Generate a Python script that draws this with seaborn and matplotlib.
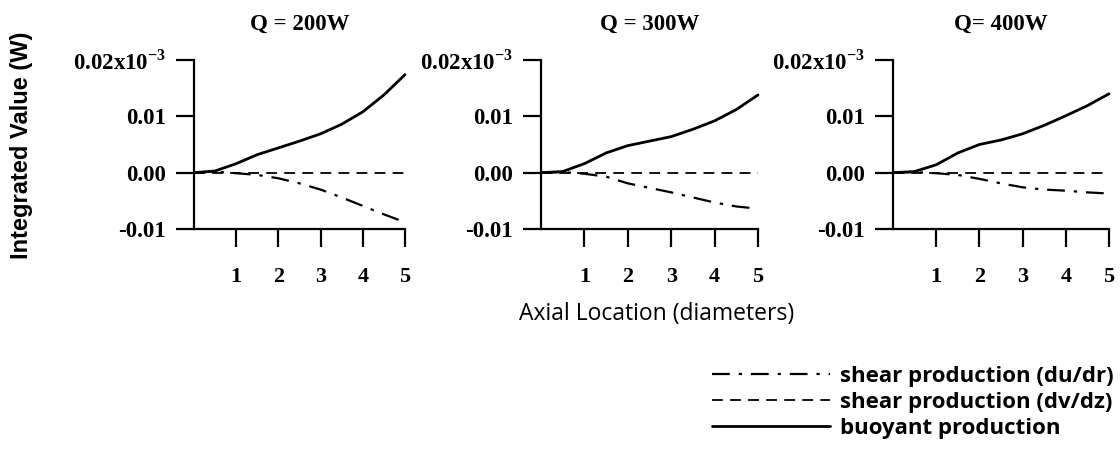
import numpy as np
import pandas as pd
import matplotlib
matplotlib.use("Agg")
import matplotlib.pyplot as plt
import seaborn as sns
from matplotlib.lines import Line2D

sns.set_theme(style="white")
plt.rcParams["font.family"] = ["Liberation Serif", "DejaVu Serif"]
plt.rcParams["mathtext.fontset"] = "custom"
plt.rcParams["mathtext.rm"] = "Liberation Serif:bold"
plt.rcParams["mathtext.bf"] = "Liberation Serif:bold"
for key in ["text.color", "axes.labelcolor", "xtick.color", "ytick.color"]:
    plt.rcParams[key] = "black"

# Axial location (diameters)
x = [0.0, 0.5, 1.0, 1.5, 2.0, 2.5, 3.0, 3.5, 4.0, 4.5, 5.0]

titles = ["Q = 200W", "Q = 300W", "Q= 400W"]

# Integrated values (scaled, tick labels in units of 10^-3 W)
buoyant_200 = [0.0, 0.0003, 0.0016, 0.0032, 0.0044, 0.0056, 0.0069, 0.0086, 0.0108, 0.0138, 0.0174]
buoyant_300 = [0.0, 0.0002, 0.0016, 0.0035, 0.0048, 0.0056, 0.0064, 0.0077, 0.0092, 0.0112, 0.0138]
buoyant_400 = [0.0, 0.0002, 0.0014, 0.0035, 0.0050, 0.0058, 0.0069, 0.0084, 0.0101, 0.0119, 0.0140]

dudr_200 = [0.0, 0.0002, -0.0001, -0.0004, -0.0010, -0.0019, -0.0030, -0.0044, -0.0059, -0.0074, -0.0088]
dudr_300 = [0.0, 0.0001, -0.0002, -0.0007, -0.0019, -0.0027, -0.0035, -0.0044, -0.0053, -0.0060, -0.0064]
dudr_400 = [0.0, 0.0001, -0.0001, -0.0004, -0.0011, -0.0019, -0.0026, -0.0030, -0.0032, -0.0035, -0.0037]

dvdz_200 = [0.0] * 11
dvdz_300 = [0.0] * 11
dvdz_400 = [0.0] * 11

labels = ["shear production (du/dr)", "shear production (dv/dz)", "buoyant production"]
ytick_vals = [-0.01, 0.0, 0.01, 0.02]
ytick_labels = ["-0.01", "0.00", "0.01", r"0.02x10$^{-3}$"]
xtick_vals = [1, 2, 3, 4, 5]

frames = []
for title, b, s1, s2 in zip(titles,
                            [buoyant_200, buoyant_300, buoyant_400],
                            [dudr_200, dudr_300, dudr_400],
                            [dvdz_200, dvdz_300, dvdz_400]):
    for name, vals in zip(labels, [s1, s2, b]):
        frames.append(pd.DataFrame({"x": x, "value": vals, "term": name, "case": title}))
df = pd.concat(frames, ignore_index=True)

styles = {
    labels[0]: (0, (8, 4, 1.5, 4)),
    labels[1]: (0, (6, 4)),
    labels[2]: "-",
}
widths = {labels[0]: 1.6, labels[1]: 1.3, labels[2]: 2.0}

fig = plt.figure(figsize=(11.2, 4.49), dpi=100)
W, H = 1120, 449
panels = [(194, 405), (541, 758), (893, 1109)]
ytop, ybot = 60, 229

for (xl, xr), title in zip(panels, titles):
    ax = fig.add_axes([xl / W, 1 - ybot / H, (xr - xl) / W, (ybot - ytop) / H])
    sub = df[df["case"] == title]
    for name in labels:
        d = sub[sub["term"] == name]
        sns.lineplot(data=d, x="x", y="value", ax=ax, color="black",
                     linestyle=styles[name], linewidth=widths[name],
                     legend=False, clip_on=False)
    ax.set_xlim(0, 5)
    ax.set_ylim(-0.01, 0.02)
    ax.set_xticks(xtick_vals)
    ax.set_xticklabels([str(v) for v in xtick_vals], fontweight="bold", fontsize=16)
    ax.set_yticks(ytick_vals)
    ax.set_yticklabels(ytick_labels, fontweight="bold", fontsize=16.5)
    ax.tick_params(axis="both", which="major", direction="out", length=13,
                   width=1.6, color="black", left=True, bottom=True)
    ax.tick_params(axis="y", pad=7)
    ax.tick_params(axis="x", pad=14)
    for side in ["top", "right"]:
        ax.spines[side].set_visible(False)
    for side in ["left", "bottom"]:
        ax.spines[side].set_color("black")
        ax.spines[side].set_linewidth(1.6)
    ax.set_xlabel("")
    ax.set_ylabel("")
    ax.set_title(title, fontweight="bold", fontsize=16.5, pad=22)
    ax.patch.set_alpha(0)

fig.text(22 / W, 1 - 145 / H, "Integrated Value (W)", rotation=90,
         ha="center", va="center", fontsize=17, fontweight="bold",
         family=["Liberation Sans Narrow", "Liberation Sans", "DejaVu Sans"])
fig.text(657 / W, 1 - 314 / H, "Axial Location (diameters)", ha="center",
         va="center", fontsize=16.5, family=["Open Sans", "DejaVu Sans"])

handles = [Line2D([0], [0], color="black", linestyle=styles[n], linewidth=widths[n])
           for n in labels]
leg = fig.legend(handles, labels, loc="upper left",
                 bbox_to_anchor=(712 / W, 1 - 366 / H), frameon=False,
                 borderpad=0, borderaxespad=0,
                 handlelength=5.3, handletextpad=0.45, labelspacing=0.22,
                 prop={"family": ["Open Sans", "DejaVu Sans"], "weight": "bold", "size": 16})

fig.savefig("out.png", dpi=100, facecolor="white")
